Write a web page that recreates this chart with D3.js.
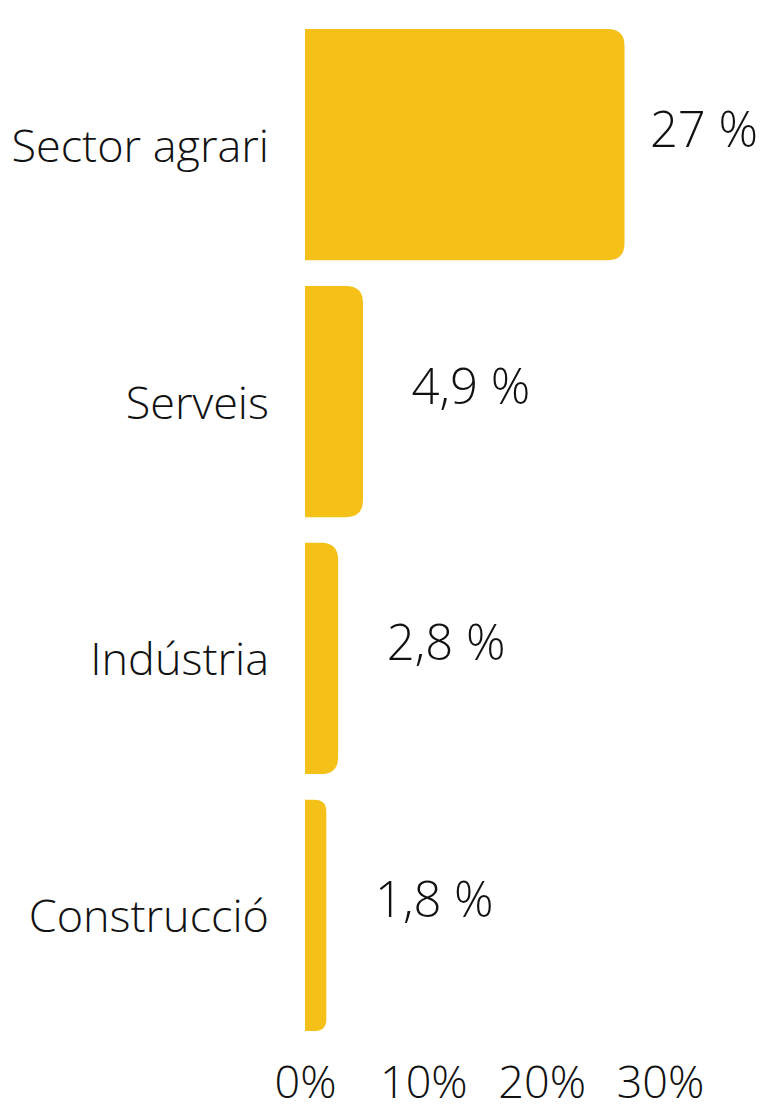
<!DOCTYPE html>
<html>
<head>
<meta charset="utf-8">
<script src="https://cdn.jsdelivr.net/npm/d3@7"></script>
<style>
  body { margin: 0; background: #fff; }
  text { font-family: "Open Sans", sans-serif; font-weight: 300; fill: #111; }
</style>
</head>
<body>
<div id="container"></div>
<script>
const categories = ["Sector agrari", "Serveis", "Indústria", "Construcció"];
const values = [27, 4.9, 2.8, 1.8];
const valueLabels = ["27 %", "4,9 %", "2,8 %", "1,8 %"];
const tickValues = [0, 10, 20, 30];

const W = 762, H = 1107;
const margin = {top: 29, right: 102, bottom: 76, left: 305};

const svg = d3.select("#container").append("svg")
  .attr("width", W)
  .attr("height", H);

const x = d3.scaleLinear()
  .domain([0, 30])
  .range([margin.left, W - margin.right]);

const y = d3.scaleBand()
  .domain(categories)
  .range([margin.top, H - margin.bottom])
  .paddingInner(0.1)
  .paddingOuter(0);

const data = categories.map((c, i) => ({cat: c, v: values[i], label: valueLabels[i]}));

// bars with rounded right corners only
function barPath(d) {
  const x0 = x(0), x1 = x(d.v), y0 = y(d.cat), y1 = y0 + y.bandwidth();
  const r = Math.min(17, (x1 - x0) / 1.8);
  return `M${x0},${y0}H${x1 - r}Q${x1},${y0} ${x1},${y0 + r}V${y1 - r}Q${x1},${y1} ${x1 - r},${y1}H${x0}Z`;
}

svg.append("g").selectAll("path")
  .data(data)
  .join("path")
  .attr("d", barPath)
  .attr("fill", "#F5C118");

// category labels
svg.append("g").selectAll("text")
  .data(data)
  .join("text")
  .attr("x", margin.left - 36)
  .attr("y", d => y(d.cat) + y.bandwidth() / 2 + 17)
  .attr("text-anchor", "end")
  .style("font-size", "45px")
  .text(d => d.cat);

// value labels, pushed back inside when they would run off the right edge
svg.append("g").selectAll("text")
  .data(data)
  .join("text")
  .attr("x", d => Math.min(x(d.v) + 108, W - 58))
  .attr("y", d => y(d.cat) + y.bandwidth() / 2 + 2)
  .attr("text-anchor", "middle")
  .style("font-size", "49px")
  .text(d => d.label);

// x axis (labels only)
const xAxis = svg.append("g")
  .attr("transform", `translate(0,${H - 9})`)
  .call(d3.axisBottom(x).tickValues(tickValues).tickFormat(d => d + "%").tickSize(0).tickPadding(0))
  .call(g => g.select(".domain").remove());

xAxis.selectAll("text")
  .attr("dy", 0)
  .attr("y", 0)
  .style("font-size", "45px")
  .style("font-family", "'Open Sans', sans-serif")
  .style("font-weight", 300)
  .style("fill", "#111");
</script>
</body>
</html>
